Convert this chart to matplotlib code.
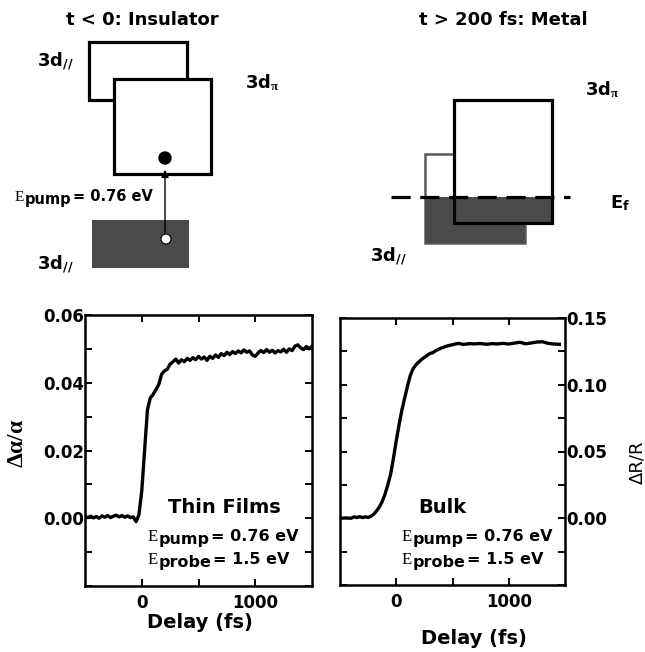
import numpy as np
import matplotlib
matplotlib.use('Agg')
import matplotlib.pyplot as plt
from matplotlib.patches import Rectangle, Circle

plt.rcParams['font.family'] = 'DejaVu Sans'
plt.rcParams['font.weight'] = 'bold'
plt.rcParams['mathtext.fontset'] = 'custom'
plt.rcParams['mathtext.rm'] = 'Liberation Serif'
plt.rcParams['mathtext.it'] = 'Liberation Serif'
plt.rcParams['mathtext.bf'] = 'DejaVu Sans:bold'

# thin film pump-probe trace (delta alpha / alpha)
thin_delay = [-500, -475, -450, -425, -400, -375, -350, -325, -300, -275,
              -250, -225, -200, -175, -150, -125, -100, -75, -50, -25,
              0, 25, 50, 75, 100, 125, 150, 175, 200, 225,
              250, 275, 300, 325, 350, 375, 400, 425, 450, 475,
              500, 525, 550, 575, 600, 625, 650, 675, 700, 725,
              750, 775, 800, 825, 850, 875, 900, 925, 950, 975,
              1000, 1025, 1050, 1075, 1100, 1125, 1150, 1175, 1200, 1225,
              1250, 1275, 1300, 1325, 1350, 1375, 1400, 1425, 1450, 1475, 1500]
thin_signal = [0.0004, 0.0002, 0.0006, 0.0001, 0.0005, 0.0000, 0.0007, 0.0003, 0.0008, 0.0002,
               0.0006, 0.0009, 0.0004, 0.0008, 0.0003, 0.0007, 0.0002, 0.0004, -0.0010, 0.0010,
               0.0080, 0.0200, 0.0320, 0.0355, 0.0365, 0.0380, 0.0395, 0.0425, 0.0435, 0.0440,
               0.0455, 0.0462, 0.0470, 0.0458, 0.0468, 0.0462, 0.0472, 0.0466, 0.0474, 0.0468,
               0.0478, 0.0470, 0.0476, 0.0466, 0.0478, 0.0472, 0.0482, 0.0475, 0.0486, 0.0480,
               0.0490, 0.0483, 0.0492, 0.0486, 0.0494, 0.0488, 0.0497, 0.0490, 0.0494, 0.0482,
               0.0478, 0.0488, 0.0495, 0.0489, 0.0498, 0.0490, 0.0496, 0.0488, 0.0495, 0.0491,
               0.0499, 0.0490, 0.0500, 0.0495, 0.0508, 0.0512, 0.0503, 0.0498, 0.0507, 0.0500, 0.0508]

# bulk reflectivity trace (delta R / R)
bulk_delay = [-500, -450, -400, -375, -350, -325, -300, -275, -250, -225,
              -200, -175, -150, -125, -100, -75, -50, -25, 0, 25,
              50, 75, 100, 125, 150, 175, 200, 225, 250, 275,
              300, 325, 350, 375, 400, 450, 500, 550, 600, 650,
              700, 750, 800, 850, 900, 950, 1000, 1050, 1100, 1150,
              1200, 1250, 1300, 1350, 1400, 1450]
bulk_signal = [0.0000, 0.0002, 0.0000, 0.0010, 0.0005, 0.0012, 0.0004, 0.0011, 0.0006, 0.0015,
               0.0030, 0.0055, 0.0085, 0.0125, 0.0180, 0.0250, 0.0330, 0.0450, 0.0580, 0.0700,
               0.0810, 0.0900, 0.0990, 0.1070, 0.1120, 0.1150, 0.1170, 0.1190, 0.1205, 0.1220,
               0.1235, 0.1240, 0.1255, 0.1265, 0.1275, 0.1290, 0.1300, 0.1310, 0.1302, 0.1308,
               0.1306, 0.1309, 0.1303, 0.1308, 0.1306, 0.1310, 0.1305, 0.1312, 0.1318, 0.1307,
               0.1313, 0.1320, 0.1322, 0.1310, 0.1305, 0.1303]

thin_yticks = [-0.02, -0.01, 0.0, 0.01, 0.02, 0.03, 0.04, 0.05, 0.06]
thin_ylabels = ['', '', '0.00', '', '0.02', '', '0.04', '', '0.06']
bulk_yticks = [-0.05, -0.025, 0.0, 0.025, 0.05, 0.075, 0.10, 0.125, 0.15]
bulk_ylabels = ['', '', '0.00', '', '0.05', '', '0.10', '', '0.15']
delay_ticks = [0, 500, 1000]
delay_labels = ['0', '', '1000']

W, H = 645, 652
fig = plt.figure(figsize=(W / 100, H / 100), dpi=100)
renderer = fig.canvas.get_renderer()

# overlay axes in pixel units for the band diagrams and free text
dax = fig.add_axes([0, 0, 1, 1])
dax.set_xlim(0, W)
dax.set_ylim(H, 0)
dax.axis('off')


def px_axes(x0, y0, x1, y1):
    return fig.add_axes([x0 / W, 1 - y1 / H, (x1 - x0) / W, (y1 - y0) / H])


def energy_label(x, y, sub, rest, size):
    # serif E, bold lowered subscript at full size, then the value
    t = dax.text(x, y, 'E', family='Liberation Serif', fontweight='normal',
                 fontsize=size * 1.05, va='baseline')
    x += t.get_window_extent(renderer).width + 0.5
    t = dax.text(x, y + 3, sub, fontsize=size, va='baseline')
    x += t.get_window_extent(renderer).width + 1.5
    dax.text(x, y, rest, fontsize=size, va='baseline')


ax1 = px_axes(85, 315, 312, 586)
ax2 = px_axes(340, 318, 565, 585)

ax1.plot(thin_delay, thin_signal, color='black', lw=2.4)
ax1.set_xlim(-500, 1500)
ax1.set_ylim(-0.02, 0.06)
ax1.set_yticks(thin_yticks)
ax1.set_yticklabels(thin_ylabels)

ax2.plot(bulk_delay, bulk_signal, color='black', lw=2.4)
ax2.set_xlim(-500, 1500)
ax2.set_ylim(-0.05, 0.15)
ax2.set_yticks(bulk_yticks)
ax2.set_yticklabels(bulk_ylabels)

for ax in (ax1, ax2):
    ax.set_xticks(delay_ticks)
    ax.set_xticklabels(delay_labels)
    ax.tick_params(direction='in', length=5, width=1.4, top=True, right=True,
                   labelsize=12)
    ax.tick_params(axis='x', pad=6)
    ax.tick_params(axis='y', pad=0.5)
    for s in ax.spines.values():
        s.set_linewidth(1.8)
    ax.patch.set_alpha(0)
ax2.tick_params(axis='y', labelleft=False, labelright=True, pad=1)

# axis labels
dax.text(200, 623, 'Delay (fs)', ha='center', va='center', fontsize=14)
dax.text(474, 638, 'Delay (fs)', ha='center', va='center', fontsize=14)
dax.text(16, 443, r'$\Delta\alpha/\alpha$', ha='center', va='center',
         rotation=90, fontsize=17)
dax.text(637, 462, 'ΔR/R', ha='center', va='center', rotation=90,
         fontsize=13, fontweight='normal')

# panel annotations
dax.text(224, 513, 'Thin Films', ha='center', va='baseline', fontsize=14)
energy_label(148, 541, 'pump', '= 0.76 eV', 11.5)
energy_label(148, 564, 'probe', '= 1.5 eV', 11.5)
dax.text(442, 513, 'Bulk', ha='center', va='baseline', fontsize=14)
energy_label(402, 541, 'pump', '= 0.76 eV', 11.5)
energy_label(402, 564, 'probe', '= 1.5 eV', 11.5)

# left diagram: insulator
box_lw = 2.3
dax.text(142, 25, 't < 0: Insulator', ha='center', va='baseline', fontsize=13)
dax.add_patch(Rectangle((89, 42), 98, 58, facecolor='white', edgecolor='black', lw=box_lw))
dax.add_patch(Rectangle((114, 79), 97, 95, facecolor='white', edgecolor='black', lw=box_lw))
dax.add_patch(Rectangle((92, 220), 97, 48, facecolor='#4a4a4a', edgecolor='none'))
dax.annotate('', xy=(165, 167), xytext=(165, 239),
             arrowprops=dict(arrowstyle='-|>', color='black', lw=1.0, mutation_scale=11))
dax.add_patch(Circle((165, 158), 6, facecolor='black', edgecolor='black'))
dax.add_patch(Circle((166, 239), 5, facecolor='white', edgecolor='black', lw=0.8, zorder=5))
dax.text(37, 67, r'3d$_{\mathbf{//}}$', va='baseline', fontsize=13)
dax.text(37, 270, r'3d$_{\mathbf{//}}$', va='baseline', fontsize=13)
dax.text(245, 88, r'3d$_{\pi}$', va='baseline', fontsize=13)
energy_label(15, 201, 'pump', '= 0.76 eV', 10.5)

# right diagram: metal
dax.text(503, 25, 't > 200 fs: Metal', ha='center', va='baseline', fontsize=13)
dax.add_patch(Rectangle((425, 154), 100, 89, facecolor='white', edgecolor='#5a5a5a', lw=1.8))
dax.add_patch(Rectangle((425, 197), 100, 46, facecolor='#4a4a4a', edgecolor='none'))
dax.add_patch(Rectangle((454, 100), 98, 97, facecolor='white', edgecolor='none'))
dax.add_patch(Rectangle((454, 197), 98, 26, facecolor='#4a4a4a', edgecolor='none'))
dax.add_patch(Rectangle((454, 100), 98, 123, facecolor='none', edgecolor='black', lw=box_lw))
dax.plot([391, 570], [197, 197], color='black', lw=2.3, dashes=(6, 3))
dax.text(585, 95, r'3d$_{\pi}$', va='baseline', fontsize=13)
dax.text(610, 208, r'E$_{\mathbf{f}}$', va='baseline', fontsize=13)
dax.text(370, 262, r'3d$_{\mathbf{//}}$', va='baseline', fontsize=13)

fig.savefig('out.png', dpi=100)
